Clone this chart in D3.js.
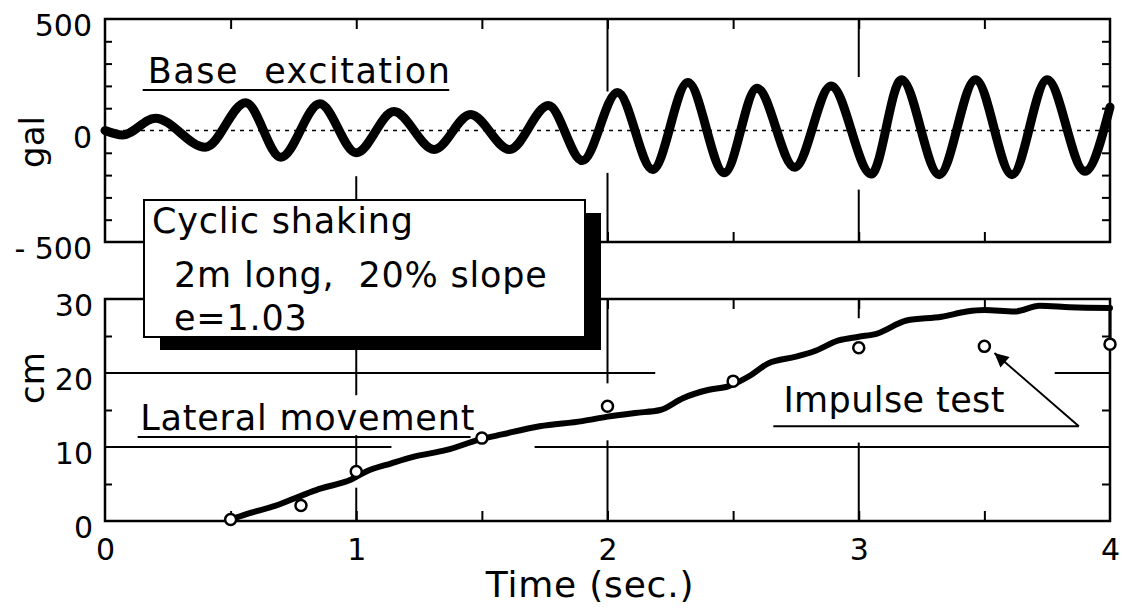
<!DOCTYPE html>
<html>
<head>
<meta charset="utf-8">
<script src="https://cdn.jsdelivr.net/npm/d3@7"></script>
<style>
body { margin: 0; background: #fff; }
svg { display: block; font-family: "DejaVu Sans", sans-serif; }
text { fill: #000; white-space: pre; }
</style>
</head>
<body>
<svg width="1122" height="608"></svg>
<script>
// base excitation: peaks and troughs (sec, gal)
var waveTime = [0, 0.07, 0.2, 0.4, 0.56, 0.70, 0.855, 1.0, 1.15, 1.31, 1.455, 1.61, 1.765, 1.90,
    2.04, 2.18, 2.32, 2.465, 2.595, 2.745, 2.89, 3.05, 3.17, 3.32, 3.465, 3.61, 3.75, 3.90, 4.0];
var waveGal = [0, -20, 55, -75, 125, -120, 120, -100, 85, -85, 72, -85, 112, -135,
    170, -175, 215, -190, 190, -165, 200, -195, 228, -198, 228, -198, 228, -183, 105];

// lateral movement (sec, cm); last point is the drop back to the impulse value
var moveTime = [0.5, 0.56, 0.69, 0.78, 0.85, 0.98, 1.04, 1.14, 1.23, 1.36, 1.49, 1.58, 1.73, 1.90,
    2.0, 2.11, 2.21, 2.30, 2.40, 2.48, 2.57, 2.64, 2.75, 2.82, 2.92, 3.0, 3.07, 3.19, 3.33,
    3.43, 3.5, 3.62, 3.72, 3.84, 4.0, 4.0];
var moveCm = [0.2, 0.9, 2.2, 3.4, 4.3, 5.6, 6.7, 7.8, 8.7, 9.6, 11.0, 11.7, 12.8, 13.5,
    14.1, 14.6, 15.0, 16.6, 17.7, 18.2, 19.7, 21.3, 22.2, 22.9, 24.4, 24.9, 25.3, 27.1, 27.6,
    28.3, 28.5, 28.3, 29.1, 28.9, 28.8, 24.0];

// impulse test points
var impulseTime = [0.5, 0.78, 1.0, 1.5, 2.0, 2.5, 3.0, 3.5, 4.0];
var impulseCm = [0.2, 2.1, 6.7, 11.2, 15.5, 18.9, 23.4, 23.6, 23.9];

var timeTicks = [0, 1, 2, 3, 4];
var galLabels = [500, 0, -500];
var cmLabels = [0, 10, 20, 30];

var svg = d3.select("svg");

var x = d3.scaleLinear().domain([0, 4]).range([105, 1110]),
    yTop = d3.scaleLinear().domain([-500, 500]).range([242, 19]),
    yLow = d3.scaleLinear().domain([0, 30]).range([521, 299]);

var halfSec = d3.range(0.5, 4, 0.5);

function clean(g) {
    g.select(".domain").remove();
    g.selectAll(".tick line").attr("stroke", "#000").attr("stroke-width", 2);
}

function labels(g, size) {
    g.select(".domain").remove();
    g.attr("font-family", null).attr("font-size", size);
    g.selectAll("text").attr("fill", "#000");
}

/* ---------- top panel ---------- */
var upper = svg.append("g");

upper.append("g").attr("transform", "translate(" + x(0) + ",0)")
    .call(d3.axisLeft(yTop).tickValues(d3.range(-400, 500, 100)).tickSize(-7).tickFormat(""))
    .call(clean);
upper.append("g").attr("transform", "translate(" + x(4) + ",0)")
    .call(d3.axisRight(yTop).tickValues(d3.range(-400, 500, 100)).tickSize(-8).tickFormat(""))
    .call(clean);
upper.append("g").attr("transform", "translate(0," + yTop(500) + ")")
    .call(d3.axisTop(x).tickValues(halfSec).tickSize(-10).tickFormat(""))
    .call(clean);
upper.append("g").attr("transform", "translate(0," + yTop(-500) + ")")
    .call(d3.axisBottom(x).tickValues(halfSec).tickSize(-10).tickFormat(""))
    .call(clean);

// broken grid lines at whole seconds
var topGrid = [
    {t: 1, from: -205, to: -500},
    {t: 2, from: 175, to: 500}, {t: 2, from: -190, to: -500},
    {t: 3, from: 240, to: 500}, {t: 3, from: -265, to: -500}
];
upper.selectAll(".vgrid").data(topGrid).enter().append("line")
    .attr("x1", function(d) { return x(d.t); })
    .attr("x2", function(d) { return x(d.t); })
    .attr("y1", function(d) { return yTop(d.from); })
    .attr("y2", function(d) { return yTop(d.to); })
    .attr("stroke", "#000").attr("stroke-width", 2);

upper.append("line")
    .attr("x1", x(0)).attr("x2", x(4))
    .attr("y1", yTop(0)).attr("y2", yTop(0))
    .attr("stroke", "#000").attr("stroke-width", 1.6)
    .attr("stroke-dasharray", "4,5");

upper.append("rect")
    .attr("x", x(0)).attr("y", yTop(500))
    .attr("width", x(4) - x(0)).attr("height", yTop(-500) - yTop(500))
    .attr("fill", "none").attr("stroke", "#000").attr("stroke-width", 2.5);

var wave = d3.line()
    .curve(d3.curveMonotoneX)
    .x(function(d, i) { return x(waveTime[i]); })
    .y(function(d) { return yTop(d); });

upper.append("path")
    .datum(waveGal)
    .attr("d", wave)
    .attr("fill", "none").attr("stroke", "#000")
    .attr("stroke-width", 9).attr("stroke-linejoin", "round").attr("stroke-linecap", "round");

upper.append("g").attr("transform", "translate(" + x(0) + ",0)")
    .call(d3.axisLeft(yTop).tickValues(galLabels).tickSize(0).tickPadding(13)
        .tickFormat(function(d) { return d < 0 ? "- " + Math.abs(d) : d; }))
    .call(labels, 30)
    .selectAll("text").attr("dy", "0.55em");

/* ---------- bottom panel ---------- */
var lower = svg.append("g");

lower.append("g").attr("transform", "translate(" + x(0) + ",0)")
    .call(d3.axisLeft(yLow).tickValues([5, 15, 25]).tickSize(-7).tickFormat(""))
    .call(clean);
lower.append("g").attr("transform", "translate(" + x(4) + ",0)")
    .call(d3.axisRight(yLow).tickValues([5, 15, 25]).tickSize(-8).tickFormat(""))
    .call(clean);
lower.append("g").attr("transform", "translate(0," + yLow(30) + ")")
    .call(d3.axisTop(x).tickValues(halfSec).tickSize(-10).tickFormat(""))
    .call(clean);
lower.append("g").attr("transform", "translate(0," + yLow(0) + ")")
    .call(d3.axisBottom(x).tickValues(halfSec).tickSize(-10).tickFormat(""))
    .call(clean);

var lowVGrid = [
    {t: 1, from: 0, to: 4.5}, {t: 1, from: 6.7, to: 11.6}, {t: 1, from: 17.0, to: 23.5},
    {t: 2, from: 0, to: 10.9}, {t: 2, from: 18.6, to: 30},
    {t: 3, from: 0, to: 10.6}, {t: 3, from: 27.4, to: 30}
];
var lowHGrid = [
    {v: 10, from: 0, to: 1.14}, {v: 10, from: 1.71, to: 4},
    {v: 20, from: 0, to: 2.19}, {v: 20, from: 3.78, to: 4}
];

lower.selectAll(".vgrid").data(lowVGrid).enter().append("line")
    .attr("x1", function(d) { return x(d.t); })
    .attr("x2", function(d) { return x(d.t); })
    .attr("y1", function(d) { return yLow(d.from); })
    .attr("y2", function(d) { return yLow(d.to); })
    .attr("stroke", "#000").attr("stroke-width", 2);

lower.selectAll(".hgrid").data(lowHGrid).enter().append("line")
    .attr("x1", function(d) { return x(d.from); })
    .attr("x2", function(d) { return x(d.to); })
    .attr("y1", function(d) { return yLow(d.v); })
    .attr("y2", function(d) { return yLow(d.v); })
    .attr("stroke", "#000").attr("stroke-width", 2);

lower.append("rect")
    .attr("x", x(0)).attr("y", yLow(30))
    .attr("width", x(4) - x(0)).attr("height", yLow(0) - yLow(30))
    .attr("fill", "none").attr("stroke", "#000").attr("stroke-width", 2.5);

var movePts = moveCm.map(function(d, i) { return [moveTime[i], d]; });

var move = d3.line()
    .curve(d3.curveMonotoneX)
    .x(function(d) { return x(d[0]); })
    .y(function(d) { return yLow(d[1]); });

// smooth part, then the straight drop at the end of shaking
lower.append("path")
    .datum(movePts.slice(0, -1))
    .attr("d", move)
    .attr("fill", "none").attr("stroke", "#000")
    .attr("stroke-width", 6).attr("stroke-linejoin", "round").attr("stroke-linecap", "round");

lower.append("path")
    .datum(movePts.slice(-2))
    .attr("d", move.curve(d3.curveLinear))
    .attr("fill", "none").attr("stroke", "#000").attr("stroke-width", 3);

lower.selectAll(".impulse").data(impulseCm).enter().append("circle")
    .attr("cx", function(d, i) { return x(impulseTime[i]); })
    .attr("cy", function(d) { return yLow(d); })
    .attr("r", 5.5)
    .attr("fill", "#fff").attr("stroke", "#000").attr("stroke-width", 2.5);

lower.append("g").attr("transform", "translate(" + x(0) + ",0)")
    .call(d3.axisLeft(yLow).tickValues(cmLabels).tickSize(0).tickPadding(12))
    .call(labels, 30)
    .selectAll("text").attr("dy", "0.55em");

lower.append("g").attr("transform", "translate(0," + yLow(0) + ")")
    .call(d3.axisBottom(x).tickValues(timeTicks).tickSize(0).tickPadding(18).tickFormat(d3.format("d")))
    .call(labels, 30);

/* ---------- annotations ---------- */
var ann = svg.append("g").attr("font-size", 35).attr("letter-spacing", 0.8);

function underline(x1, x2, y) {
    ann.append("line").attr("x1", x1).attr("x2", x2).attr("y1", y).attr("y2", y)
        .attr("stroke", "#000").attr("stroke-width", 2);
}

ann.append("text").attr("x", x(0.17)).attr("y", yTop(215)).attr("letter-spacing", 1.5).text("Base  excitation");
underline(x(0.15), x(1.37), yTop(182));

ann.append("text").attr("x", x(0.14)).attr("y", yLow(12.3)).text("Lateral movement");
underline(x(0.13), x(1.455), yLow(11.35));

ann.append("text").attr("x", x(2.7)).attr("y", yLow(14.7)).attr("letter-spacing", 0.4).text("Impulse test");
underline(x(2.66), x(3.876), yLow(12.8));

svg.append("defs").append("marker")
    .attr("id", "head")
    .attr("viewBox", "0 0 10 10")
    .attr("refX", 10).attr("refY", 5)
    .attr("markerWidth", 9).attr("markerHeight", 7)
    .attr("markerUnits", "strokeWidth")
    .attr("orient", "auto")
    .append("path").attr("d", "M0,0L10,5L0,10z").attr("fill", "#000");

ann.append("line")
    .attr("x1", x(3.876)).attr("y1", yLow(12.8))
    .attr("x2", x(3.54)).attr("y2", yLow(22.7))
    .attr("stroke", "#000").attr("stroke-width", 2)
    .attr("marker-end", "url(#head)");

// note box with heavy drop shadow
var box = svg.append("g");
box.append("rect").attr("x", 160).attr("y", 213).attr("width", 441).attr("height", 137).attr("fill", "#000");
box.append("rect").attr("x", 144).attr("y", 200).attr("width", 441).attr("height", 137)
    .attr("fill", "#fff").attr("stroke", "#000").attr("stroke-width", 2);
box.append("text").attr("x", 152).attr("y", 233).attr("font-size", 35).attr("letter-spacing", 0.8).text("Cyclic shaking");
box.append("text").attr("x", 174).attr("y", 287).attr("font-size", 35).attr("letter-spacing", 0.8).text("2m long,  20% slope");
box.append("text").attr("x", 174).attr("y", 330).attr("font-size", 35).attr("letter-spacing", 0.8).text("e=1.03");

// axis titles
svg.append("text").attr("transform", "translate(44,142) rotate(-90)")
    .attr("text-anchor", "middle").attr("font-size", 34).text("gal");
svg.append("text").attr("transform", "translate(44,378) rotate(-90)")
    .attr("text-anchor", "middle").attr("font-size", 34).text("cm");
svg.append("text").attr("x", 590).attr("y", 597)
    .attr("text-anchor", "middle").attr("font-size", 36).attr("letter-spacing", 0.8).text("Time (sec.)");
</script>
</body>
</html>
